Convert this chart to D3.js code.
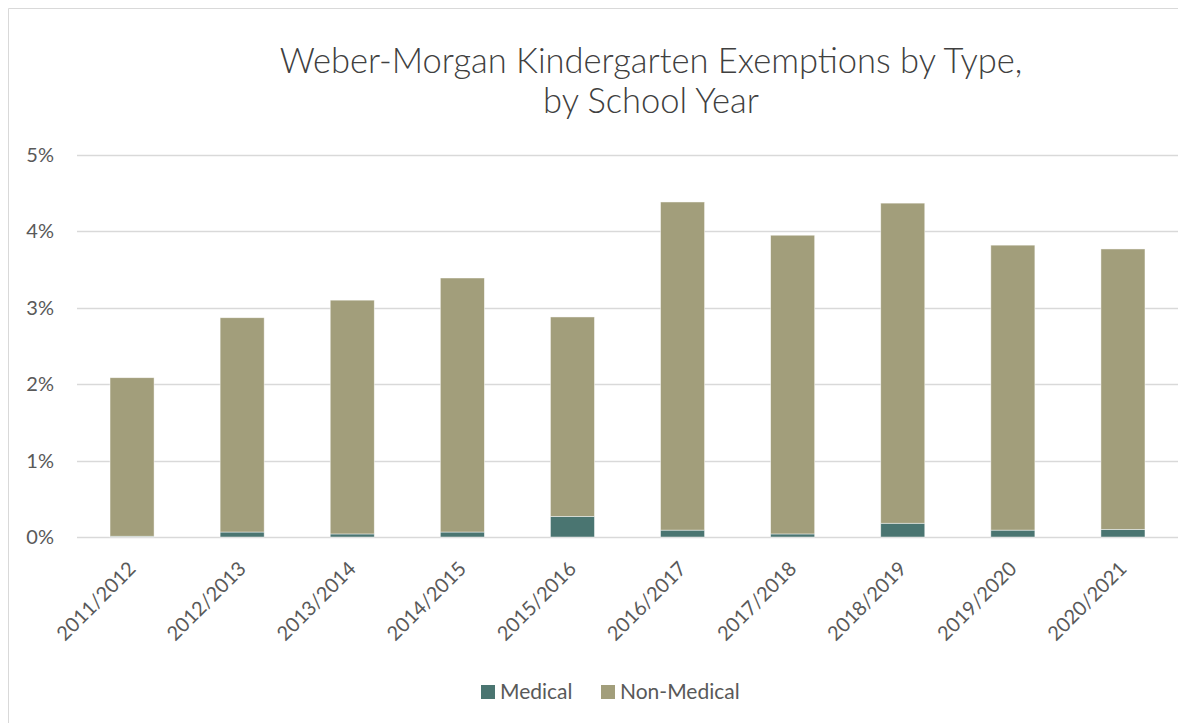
<!DOCTYPE html>
<html>
<head>
<meta charset="utf-8">
<script src="https://cdn.jsdelivr.net/npm/d3@7"></script>
<style>
  body { margin: 0; background: #fff; }
  svg text { font-family: Lato, "Open Sans", sans-serif; }
</style>
</head>
<body>
<svg width="1200" height="723"></svg>
<script>
const years = ['2011/2012', '2012/2013', '2013/2014', '2014/2015', '2015/2016',
  '2016/2017', '2017/2018', '2018/2019', '2019/2020', '2020/2021'];
const medical = [0.01, 0.065, 0.04, 0.065, 0.27, 0.09, 0.04, 0.18, 0.09, 0.10];
const nonMedical = [2.075, 2.805, 3.06, 3.325, 2.61, 4.295, 3.91, 4.19, 3.73, 3.67];
const yTicks = [0, 1, 2, 3, 4, 5];
const seriesNames = ['Medical', 'Non-Medical'];
const colors = ['#4A7571', '#A29E7B'];

const svg = d3.select('svg');
const margin = { left: 77, right: 22, top: 155, bottom: 186 };
const width = +svg.attr('width');
const height = +svg.attr('height');

// chart frame, only left and top edges show in the picture
svg.append('path')
  .attr('d', 'M8.5,723 V8.5 H1178')
  .attr('fill', 'none')
  .attr('stroke', '#d9d9d9')
  .attr('stroke-width', 1);

const rows = years.map((yr, i) => ({ year: yr, Medical: medical[i], 'Non-Medical': nonMedical[i] }));

const x = d3.scaleBand()
  .domain(years)
  .range([margin.left, width - margin.right])
  .paddingInner(0.6)
  .paddingOuter(0.3);

const y = d3.scaleLinear()
  .domain([0, 5])
  .range([height - margin.bottom, margin.top]);

// gridlines
svg.append('g')
  .selectAll('line')
  .data(yTicks)
  .join('line')
  .attr('x1', margin.left)
  .attr('x2', width - margin.right)
  .attr('y1', d => Math.round(y(d)) + 0.5)
  .attr('y2', d => Math.round(y(d)) + 0.5)
  .attr('stroke', '#d9d9d9')
  .attr('stroke-width', 1.5);

// y labels
svg.append('g')
  .selectAll('text')
  .data(yTicks)
  .join('text')
  .attr('x', 54)
  .attr('y', d => y(d))
  .attr('dy', '0.35em')
  .attr('text-anchor', 'end')
  .attr('font-size', 20)
  .attr('fill', '#595959')
  .text(d => d + '%');

const stacked = d3.stack().keys(seriesNames)(rows);

svg.append('g')
  .selectAll('g')
  .data(stacked)
  .join('g')
  .attr('fill', (d, i) => colors[i])
  .selectAll('rect')
  .data(d => d)
  .join('rect')
  .attr('x', d => x(d.data.year))
  .attr('y', d => y(d[1]))
  .attr('width', x.bandwidth())
  .attr('height', d => y(d[0]) - y(d[1]))
  .attr('stroke', '#fff')
  .attr('stroke-opacity', 0.6)
  .attr('stroke-width', 0.75);

// x labels, rotated
svg.append('g')
  .selectAll('text')
  .data(years)
  .join('text')
  .attr('transform', d => `translate(${x(d) + x.bandwidth() / 2 + 5},${height - margin.bottom + 33}) rotate(-45)`)
  .attr('text-anchor', 'end')
  .attr('font-size', 20)
  .attr('fill', '#595959')
  .text(d => d);

// title
const title = svg.append('text')
  .attr('text-anchor', 'middle')
  .attr('font-size', 34.5)
  .attr('font-weight', 300)
  .attr('fill', '#404040');
title.append('tspan').attr('x', 651).attr('y', 73).text('Weber-Morgan Kindergarten Exemptions by Type,');
title.append('tspan').attr('x', 651).attr('y', 113).text('by School Year');

// legend
const legend = svg.append('g');
const legendX = [481, 601];
seriesNames.forEach((name, i) => {
  legend.append('rect')
    .attr('x', legendX[i])
    .attr('y', 685)
    .attr('width', 14)
    .attr('height', 14)
    .attr('fill', colors[i]);
  legend.append('text')
    .attr('x', legendX[i] + 19)
    .attr('y', 699)
    .attr('font-size', 21)
    .attr('fill', '#595959')
    .text(name);
});
</script>
</body>
</html>
